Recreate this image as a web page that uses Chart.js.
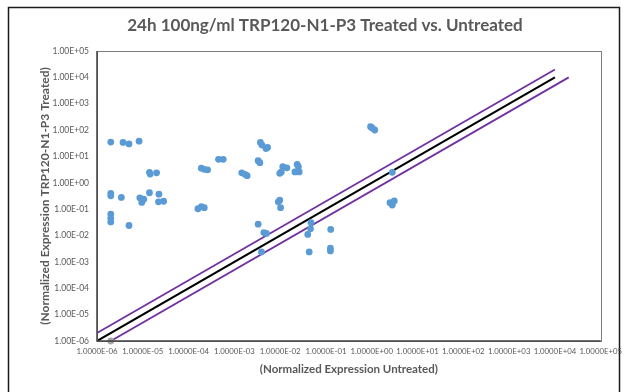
<!DOCTYPE html>
<html>
<head>
<meta charset="utf-8">
<script src="https://cdn.jsdelivr.net/npm/chart.js@4.4.0/dist/chart.umd.min.js"></script>
<style>
  html, body { margin: 0; padding: 0; background: #fff; }
  #wrap { width: 628px; height: 392px; position: relative; }
</style>
</head>
<body>
<div id="wrap"><canvas id="c" width="628" height="392"></canvas></div>
<script>
// ---- data ----
const titleText = "24h 100ng/ml TRP120-N1-P3 Treated vs. Untreated";
const xAxisTitle = "(Normalized Expression Untreated)";
const yAxisTitle = "(Normalized Expression TRP120-N1-P3 Treated)";

const untreated = [
  2.0e-6, 3.7e-6, 5.0e-6, 8.3e-6, 1.4e-5, 1.45e-5, 2.0e-5,
  2.0e-6, 2.0e-6, 3.4e-6, 8.6e-6, 1.05e-5, 9.5e-6, 1.4e-5, 2.25e-5, 2.2e-5, 2.85e-5,
  2.0e-6, 2.0e-6, 2.0e-6, 5.0e-6,
  1.6e-4, 1.9e-4, 2.2e-4, 2.2e-4, 1.9e-4, 2.6e-4, 4.5e-4, 5.7e-4,
  1.45e-3, 1.7e-3, 1.9e-3, 3.3e-3, 3.6e-3, 3.7e-3, 4.0e-3, 4.9e-3, 5.3e-3,
  9.8e-3, 1.06e-2, 1.14e-2, 1.4e-2, 2.1e-2, 2.35e-2, 2.5e-2, 2.6e-2,
  9.1e-3, 9.8e-3, 1.02e-2, 3.3e-3, 4.4e-3, 5.0e-3, 3.9e-3,
  4.7e-2, 4.6e-2, 4.0e-2, 0.127, 0.043, 0.125, 0.125,
  0.94, 1.16, 1.02, 2.8, 2.5, 3.1, 2.8
];
const treated = [
  35, 34, 30, 38, 2.5, 2.15, 2.4,
  0.40, 0.32, 0.28, 0.27, 0.24, 0.18, 0.42, 0.37, 0.19, 0.20,
  0.065, 0.045, 0.033, 0.024,
  0.104, 0.124, 0.114, 3.25, 3.6, 3.1, 7.8, 7.8,
  2.4, 2.1, 1.86, 6.9, 5.8, 34, 27, 20, 22,
  2.3, 2.6, 4.1, 3.7, 2.6, 5.0, 4.1, 2.6,
  0.19, 0.22, 0.114, 0.027, 0.013, 0.012, 0.0024,
  0.031, 0.018, 0.011, 0.017, 0.0024, 0.0033, 0.0026,
  134, 101, 120, 2.5, 0.176, 0.204, 0.144
];
const greyX = [2.0e-6];
const greyY = [1.0e-6];

const equalX = [1e-6, 1e4];
const equalY = [1e-6, 1e4];
const upperX = [1e-6, 1e4];
const upperY = [2e-6, 2e4];
const lowerX = [2e-6, 2e4];
const lowerY = [1e-6, 1e4];

const xTickValues = [1e-6,1e-5,1e-4,1e-3,1e-2,1e-1,1e0,1e1,1e2,1e3,1e4,1e5];
const xTickLabels = ["1.0000E-06","1.0000E-05","1.0000E-04","1.0000E-03","1.0000E-02","1.0000E-01",
                     "1.0000E+00","1.0000E+01","1.0000E+02","1.0000E+03","1.0000E+04","1.0000E+05"];
const yTickValues = [1e-6,1e-5,1e-4,1e-3,1e-2,1e-1,1e0,1e1,1e2,1e3,1e4,1e5];
const yTickLabels = ["1.00E-06","1.00E-05","1.00E-04","1.00E-03","1.00E-02","1.00E-01",
                     "1.00E+00","1.00E+01","1.00E+02","1.00E+03","1.00E+04","1.00E+05"];

// ---- build ----
const pts = (xs, ys) => xs.map((x, i) => ({x: x, y: ys[i]}));
const FONT = "Lato, 'Open Sans', sans-serif";
const GREY_TXT = "#595959";

const frame = {
  id: 'frame',
  beforeDraw(chart) {
    const ctx = chart.ctx;
    ctx.save();
    ctx.fillStyle = '#fff';
    ctx.fillRect(0, 0, chart.width, chart.height);
    ctx.strokeStyle = '#1a1a1a';
    ctx.lineWidth = 1.5;
    ctx.strokeRect(8.5, 7.5, 611, 400);
    // chart title
    ctx.fillStyle = GREY_TXT;
    ctx.font = "bold 17px " + FONT;
    ctx.textAlign = 'center';
    ctx.textBaseline = 'middle';
    ctx.fillText(titleText, 325, 26);
    ctx.restore();
  },
  afterDatasetsDraw(chart) {
    const a = chart.chartArea, ctx = chart.ctx;
    ctx.save();
    ctx.strokeStyle = '#7f7f7f';
    ctx.lineWidth = 1;
    ctx.strokeRect(Math.round(a.left) + 0.5, Math.round(a.top) + 0.5,
                   Math.round(a.right - a.left), Math.round(a.bottom - a.top));
    ctx.strokeStyle = '#404040';
    ctx.lineWidth = 1.5;
    ctx.beginPath();
    ctx.moveTo(a.left, a.top);
    ctx.lineTo(a.left, a.bottom);
    ctx.lineTo(a.right, a.bottom);
    ctx.stroke();
    ctx.restore();
  }
};

new Chart(document.getElementById('c'), {
  type: 'scatter',
  plugins: [frame],
  data: {
    datasets: [
      { label: 'genes', data: pts(untreated, treated), backgroundColor: '#5B9BD5',
        borderWidth: 0, pointRadius: 3.4, pointHoverRadius: 3.4 },
      { label: 'ref', data: pts(greyX, greyY), backgroundColor: '#A5A5A5',
        borderWidth: 0, pointRadius: 3.4, clip: false },
      { label: 'y=x', data: pts(equalX, equalY), showLine: true, borderColor: '#000',
        borderWidth: 2, pointRadius: 0 },
      { label: 'upper', data: pts(upperX, upperY), showLine: true, borderColor: '#7030A0',
        borderWidth: 1.8, pointRadius: 0 },
      { label: 'lower', data: pts(lowerX, lowerY), showLine: true, borderColor: '#7030A0',
        borderWidth: 1.8, pointRadius: 0 }
    ]
  },
  options: {
    responsive: false,
    animation: false,
    layout: { padding: { left: 0, right: 24, top: 51, bottom: 0 } },
    plugins: {
      legend: { display: false },
      tooltip: { enabled: false },
      title: { display: false }
    },
    scales: {
      x: {
        type: 'logarithmic', min: 1e-6, max: 1e5,
        grid: { display: false, drawTicks: false },
        border: { display: false },
        afterBuildTicks(s) { s.ticks = xTickValues.map(v => ({value: v})); },
        afterFit(s) { s.height = 51; },
        ticks: {
          autoSkip: false, maxRotation: 0, minRotation: 0, padding: 6,
          color: GREY_TXT, font: { family: FONT, size: 7.8 },
          callback(v, i) { return xTickLabels[i]; }
        },
        title: {
          display: true, text: xAxisTitle, color: GREY_TXT,
          font: { family: FONT, size: 11.5, weight: 'bold' }, padding: { top: 0, bottom: 16 }
        }
      },
      y: {
        type: 'logarithmic', min: 1e-6, max: 1e5,
        grid: { display: false, drawTicks: false },
        border: { display: false },
        afterBuildTicks(s) { s.ticks = yTickValues.map(v => ({value: v})); },
        afterFit(s) { s.width = 97; },
        ticks: {
          autoSkip: false, padding: 8,
          color: GREY_TXT, font: { family: FONT, size: 8.5 },
          callback(v, i) { return yTickLabels[i]; }
        },
        title: {
          display: true, text: yAxisTitle, color: GREY_TXT,
          font: { family: FONT, size: 12, weight: 'bold' }, padding: { top: 38, bottom: 0 }
        }
      }
    }
  }
});
</script>
</body>
</html>
